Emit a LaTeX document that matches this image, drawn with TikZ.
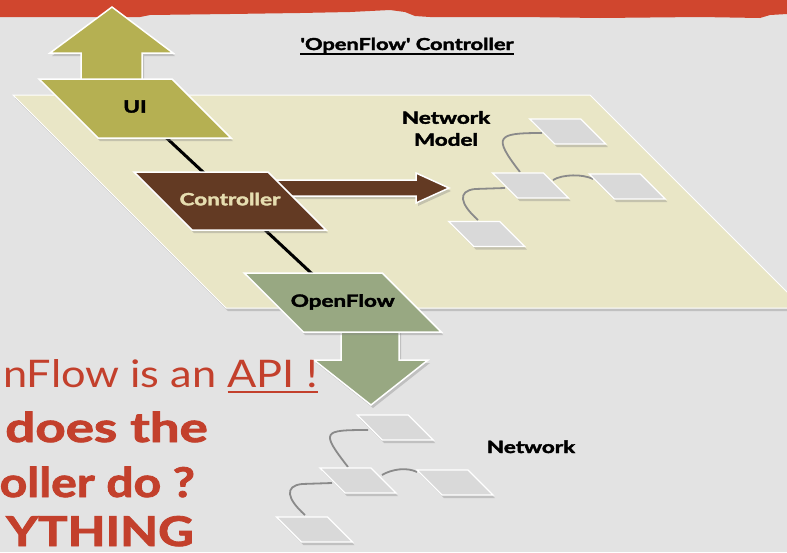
\documentclass[tikz,border=0pt]{standalone}
\usepackage{fontspec}
\setmainfont{Lato}[BoldFeatures={FakeBold=2}]
\usetikzlibrary{shadows,calc}
\definecolor{bgc}{HTML}{E3E3E3}
\definecolor{bandc}{HTML}{D0462E}
\definecolor{redtxt}{HTML}{C3402C}
\definecolor{planec}{HTML}{E9E6C6}
\definecolor{olivec}{HTML}{B5B052}
\definecolor{brownc}{HTML}{633A23}
\definecolor{beigetxt}{HTML}{E6DDB0}
\definecolor{greenc}{HTML}{98A882}
\definecolor{nodegray}{HTML}{D9D9D9}
\definecolor{wiregray}{HTML}{8A8A8A}
\newcommand{\myunderline}[3]{\setbox0\hbox{#3}\rlap{\raisebox{-#1}{\rule{\wd0}{#2}}}\box0}
% #1 name, #2 cx, #3 cy, #4 top length, #5 height, #6 path style, #7 text
\newcommand{\pgram}[7]{%
  \path[#6] (#2-#4/2-#5/2,#3-#5/2) -- (#2+#4/2-#5/2,#3-#5/2) -- (#2+#4/2+#5/2,#3+#5/2) -- (#2-#4/2+#5/2,#3+#5/2) -- cycle;
  \node[inner sep=0pt, minimum width=#4, minimum height=#5] (#1) at (#2,#3) {#7};}
\newcommand{\wide}[1]{\scalebox{1.32}[1]{#1}}
\newcommand{\lbltext}[1]{\raisebox{4pt}{\fontsize{17}{20}\selectfont\bfseries\wide{#1}}}
\pgfdeclarelayer{back}
\pgfdeclarelayer{wires}
\pgfsetlayers{back,wires,main}
\begin{document}
\begin{tikzpicture}[x=1pt,y=-1pt,
  shad/.style={drop shadow={opacity=0.35,shadow xshift=2pt,shadow yshift=-3pt}},
  para/.style={draw=white, line width=1.5pt, shad},
  small/.style={para, fill=nodegray, line width=1.3pt},
  lbl/.style={font=\fontsize{17}{22}\selectfont\bfseries},
  wire/.style={draw=wiregray, line width=1.8pt},
  arr/.style={draw=white, line width=1.5pt, shad},
  redline/.style={text=redtxt, inner sep=0pt, anchor=base east}
]
\useasboundingbox (0,0) rectangle (787,552);
\begin{pgfonlayer}{back}
\fill[bgc] (0,0) rectangle (787,552);
\fill[bandc] (0,0) -- (787,0) -- (787,14) -- (770,15) -- (760,18) -- (700,17) -- (600,18)
  -- (520,17) -- (470,17) -- (430,17) -- (415,16) -- (405,12) -- (390,10) -- (350,12)
  -- (300,13) -- (230,14) -- (150,15) -- (140,17) -- (60,17) -- (0,17) -- cycle;
\pgram{plane}{408}{201.5}{577}{213}{para, fill=planec, line width=1pt}{}
\end{pgfonlayer}

% title
\node[font=\fontsize{16.5}{20}\selectfont\bfseries, anchor=base, inner sep=0pt] (title) at (407,50)
  {\wide{\myunderline{4.5pt}{1.8pt}{\textquotesingle OpenFlow\textquotesingle{} Controller}}};

% UI arrow and node
\path[arr, fill=olivec] (81,100) -- (81,53) -- (50,53) -- (112,7) -- (173,53) -- (142,53) -- (142,100) -- cycle;
\pgram{ui}{135}{108.5}{133}{59}{para, fill=olivec}{\lbltext{UI}}

% Controller arrow and node
\path[arr, fill=brownc] (260,180) -- (416,180) -- (416,173) -- (449,188) -- (416,203) -- (416,196) -- (260,196) -- cycle;
\pgram{ctrl}{230}{201}{134}{58}{para, fill=brownc}{\textcolor{beigetxt}{\lbltext{Controller}}}

% network model
\node[lbl, align=center, inner sep=0pt] (nmlabel) at (446,128.5) {\wide{Network}\\\wide{Model}};
\pgram{m1}{567.75}{131.5}{51}{25}{small}{}
\pgram{m2}{530.5}{185.5}{51}{25}{small}{}
\pgram{m3}{627.25}{186.5}{51}{25}{small}{}
\pgram{m4}{486.75}{234}{51}{25}{small}{}

% OpenFlow arrow and node
\path[arr, fill=greenc] (341,320) -- (341,360) -- (314,360) -- (371,405) -- (428,360) -- (399,360) -- (399,320) -- cycle;
\pgram{of}{342.75}{302.5}{138}{59}{para, fill=greenc}{\lbltext{OpenFlow}}

% network
\pgram{n1}{395.25}{427.5}{51}{25}{small}{}
\pgram{n2}{358}{480.5}{51}{25}{small}{}
\pgram{n3}{455}{482.5}{51}{25}{small}{}
\pgram{n4}{314.5}{529.5}{51}{25}{small}{}
\node[lbl, anchor=base, inner sep=0pt] (netlabel) at (531,453) {\wide{Network}};

% connectors
\begin{pgfonlayer}{wires}
\draw[line width=3pt, black] (ui.center) -- (of.center);
\draw[wire] ($(m2.center)+(-10.5,-13.5)$) .. controls +(-28,-36) and +(-45,0) .. ($(m1.center)+(-25.75,1.5)$);
\draw[wire] ($(m2.center)+(22.5,-5.5)$) .. controls +(10,-6) and +(-10,-5) .. ($(m3.center)+(-34.25,-7.5)$);
\draw[wire] ($(m2.center)+(-25.5,2.5)$) -- ++(-30,1) .. controls +(-18,2) and +(-18,-16) .. ($(m4.center)+(-8.75,-14)$);
\draw[wire] ($(n2.center)+(-10,-13.5)$) .. controls +(-28,-36) and +(-45,0) .. ($(n1.center)+(-27.25,2.5)$);
\draw[wire] ($(n2.center)+(24,-5.5)$) .. controls +(10,-6) and +(-10,-5) .. ($(n3.center)+(-38,-10.5)$);
\draw[wire] ($(n2.center)+(-26,2.5)$) -- ++(-30,1) .. controls +(-18,2) and +(-18,-16) .. ($(n4.center)+(-9.5,-14.5)$);
\end{pgfonlayer}

% red text
\node[redline, font=\fontsize{38}{40}\selectfont] (t1) at (318,387)
  {\scalebox{1.14}[1]{nFlow is an \myunderline{6pt}{1.6pt}{API !}}};
\node[redline, font=\fontsize{41}{44}\selectfont\bfseries] (t2) at (208,442) {\scalebox{1.29}[1]{does the}};
\node[redline, font=\fontsize{41}{44}\selectfont\bfseries] (t3) at (195,497) {\scalebox{1.17}[1]{oller do ?}};
\node[redline, font=\fontsize{41}{44}\selectfont\bfseries] (t4) at (194,546) {\scalebox{1.2}[1]{YTHING}};
\end{tikzpicture}
\end{document}
